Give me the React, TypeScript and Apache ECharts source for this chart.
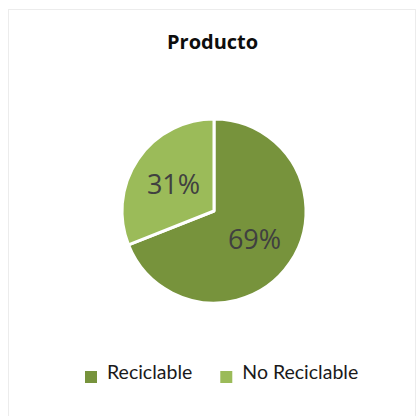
import React, { useEffect, useRef } from "react";
import * as echarts from "echarts";

const title = "Producto";
const categories = ["Reciclable", "No Reciclable"];
const values = [69, 31];
const colors = ["#77933C", "#9BBB59"];

export default function App() {
  const ref = useRef<HTMLDivElement>(null);
  useEffect(() => {
    if (!ref.current) return;
    const chart = echarts.init(ref.current, undefined, { renderer: "svg" });
    chart.setOption({
      animation: false,
      backgroundColor: "transparent",
      title: {
        text: title,
        left: 167,
        top: 31,
        padding: 0,
        textStyle: {
          fontFamily: "Open Sans",
          fontWeight: "bold",
          fontSize: 20,
          color: "#0d0d0d",
        },
      },
      legend: {
        top: 358,
        left: 83,
        padding: 0,
        itemWidth: 14,
        itemHeight: 25,
        itemGap: 26,
        icon: "path://M0,0 L14,0 M0,11 L14,11 L14,25 L0,25 Z",
        textStyle: {
          fontFamily: "Lato",
          fontSize: 19.5,
          color: "#1a1a1a",
          padding: [0, 0, 0, 4],
        },
        data: categories,
      },
      series: [
        {
          type: "pie",
          center: [214, 211],
          radius: 92,
          startAngle: 90,
          clockwise: true,
          data: categories.map((c, i) => ({
            name: c,
            value: values[i],
            itemStyle: { color: colors[i] },
          })),
          itemStyle: { borderColor: "#ffffff", borderWidth: 3 },
          label: {
            position: "inside",
            formatter: "{d}%",
            fontFamily: "Open Sans",
            fontSize: 27,
            color: "#404040",
          },
          labelLine: { show: false },
        },
      ],
    });
    return () => chart.dispose();
  }, []);
  return (
    <div style={{ position: "fixed", left: 0, top: 0, width: 417, height: 416, background: "#fff" }}>
      <div
        style={{
          position: "absolute",
          left: 8,
          top: 9,
          width: 408,
          height: 420,
          border: "1px solid #ececec",
          boxSizing: "border-box",
        }}
      />
      <div ref={ref} style={{ position: "absolute", left: 0, top: 0, width: 417, height: 416 }} />
    </div>
  );
}
